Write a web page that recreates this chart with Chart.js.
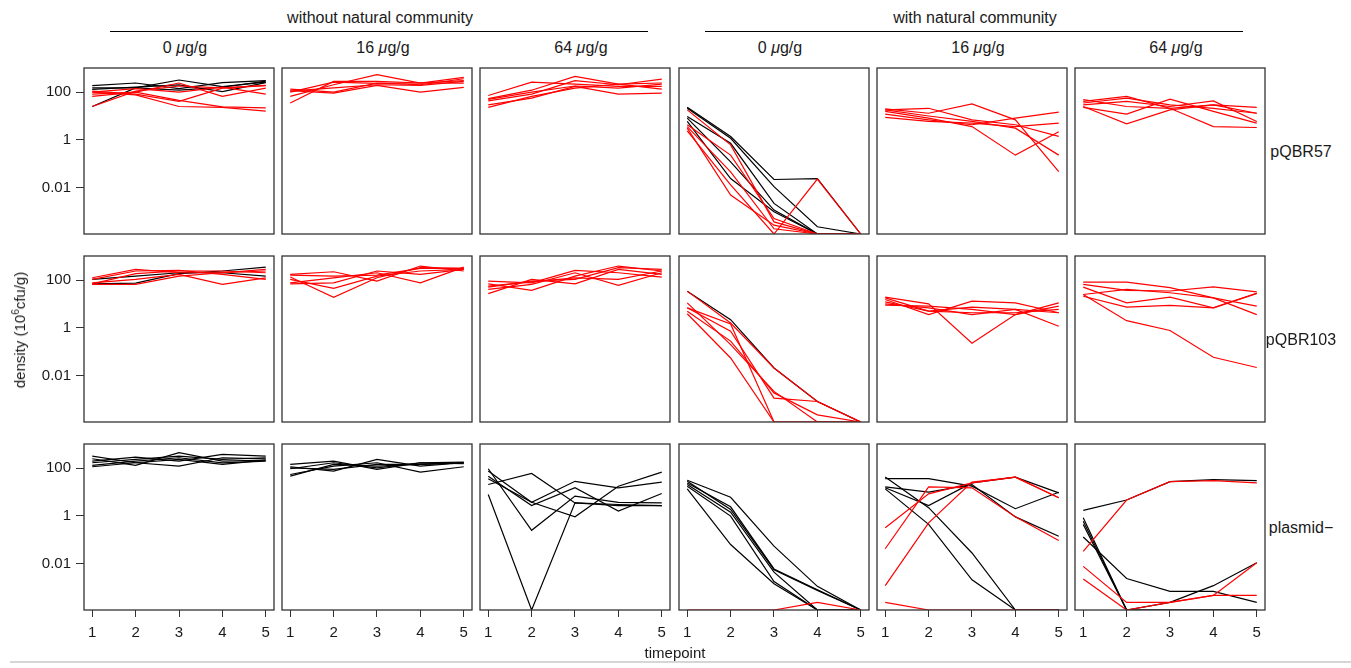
<!DOCTYPE html>
<html>
<head>
<meta charset="utf-8">
<script src="https://cdn.jsdelivr.net/npm/chart.js@4.4.1/dist/chart.umd.min.js"></script>
<style>
  body { margin: 0; background: #fff; font-family: "Liberation Sans", Arial, sans-serif; color: #1a1a1a; }
  #fig { position: relative; width: 1351px; height: 668px; overflow: hidden; }
  #fig canvas { position: absolute; }
  .lbl { position: absolute; font-size: 16px; white-space: nowrap; transform: translate(-50%, -50%); }
  .small { font-size: 15px; }
  .rule { position: absolute; height: 0; border-top: 1.5px solid #000; }
  .ytitle { font-size: 15px; transform: translate(-50%, -50%) rotate(-90deg); }
  .ytitle sup { font-size: 10px; }
</style>
</head>
<body>
<div id="fig"></div>
<script>
const timepoints = [1, 2, 3, 4, 5];
const yTicks = [0.01, 1, 100];
const yRange = [1.15e-4, 1.02e3];
const ND = 1.15e-4; // not detected, sits on the lower edge of the axis
const plasmids = ['pQBR57', 'pQBR103', 'plasmid\u2212'];
const communities = ['without natural community', 'with natural community'];
const doses = ['0', '16', '64'];

// pQBR57
const q57_wo_0_black = [
  [185, 240, 140, 250, 300],
  [150, 150, 320, 170, 260],
  [25, 150, 120, 160, 290],
  [130, 160, 200, 105, 250]
];
const q57_wo_0_red = [
  [100, 77, 25, 23, 16],
  [82, 100, 45, 24, 22],
  [110, 82, 41, 147, 185],
  [66, 100, 240, 66, 147],
  [100, 140, 100, 160, 82],
  [25, 110, 180, 150, 190]
];
const q57_wo_16_red = [
  [35, 280, 280, 240, 300],
  [66, 203, 535, 238, 413],
  [114, 91, 190, 100, 157],
  [134, 100, 238, 203, 362],
  [110, 150, 203, 190, 280],
  [100, 260, 230, 240, 238]
];
const q57_wo_64_red = [
  [72, 263, 216, 173, 173],
  [53, 120, 454, 216, 134],
  [43, 82, 300, 203, 351],
  [29, 56, 173, 82, 91],
  [23, 66, 147, 216, 240],
  [50, 100, 180, 147, 216]
];
const q57_w_0_black = [
  [23.4, 1.38, 0.022, 0.024, ND],
  [21, 1.17, 0.011, 0.00023, ND],
  [9.5, 0.72, 0.0022, ND, ND],
  [8.1, 0.12, 0.00115, ND, ND],
  [5.9, 0.024, 0.00098, ND, ND]
];
const q57_w_0_red = [
  [18, 0.62, 0.00037, ND, ND],
  [4.3, 0.23, 0.00051, ND, ND],
  [3.1, 0.0049, 0.00027, ND, ND],
  [2.4, 0.013, ND, 0.023, ND],
  [3.6, 0.046, 0.00019, ND, ND]
];
const q57_w_16_red = [
  [18, 21, 6.9, 4.3, 1.4],
  [20, 13, 32, 6.9, 0.047],
  [15.5, 8.1, 3.6, 0.23, 2.2],
  [12, 6.9, 4.3, 8.1, 14.5],
  [8.7, 5.9, 5.0, 3.6, 5.0],
  [18, 10, 5.9, 3.1, 0.23]
];
const q57_w_64_red = [
  [41, 66, 21, 29, 13],
  [29, 41, 25, 43, 5.9],
  [25, 4.7, 18, 29, 23],
  [23, 12, 51, 15.5, 5.0],
  [48, 25, 21, 3.6, 3.3],
  [35, 56, 29, 21, 13]
];

// pQBR103
const q103_wo_0_black = [
  [70, 75, 185, 240, 350],
  [107, 147, 203, 203, 147]
];
const q103_wo_0_red = [
  [125, 280, 203, 203, 280],
  [107, 240, 255, 173, 107],
  [77, 107, 173, 66, 125],
  [66, 66, 147, 203, 240],
  [70, 185, 240, 240, 203]
];
const q103_wo_16_red = [
  [134, 19, 125, 330, 309],
  [107, 45, 147, 240, 280],
  [173, 224, 91, 388, 240],
  [77, 125, 203, 77, 350],
  [70, 77, 240, 173, 280],
  [162, 147, 162, 309, 309]
];
const q103_wo_64_red = [
  [91, 77, 255, 203, 134],
  [70, 37, 147, 388, 240],
  [51, 91, 107, 330, 280],
  [41, 66, 203, 60, 203],
  [27, 107, 70, 280, 173],
  [56, 85, 125, 107, 240]
];
const q103_w_0_black = [
  [34.5, 2.2, 0.021, 0.00083, ND]
];
const q103_w_0_red = [
  [6.9, 1.47, ND, ND, ND],
  [3.9, 0.055, ND, ND, ND],
  [11.2, 0.20, 0.0022, ND, ND],
  [5.0, 0.28, 0.0019, 0.00023, ND],
  [34.5, 1.6, 0.021, 0.00083, ND],
  [6.9, 0.72, 0.00115, 0.00083, ND]
];
const q103_w_16_red = [
  [19.3, 10.2, 0.23, 3.6, 8.1],
  [15.5, 3.6, 13.1, 11.2, 4.3],
  [12.3, 5.0, 7.4, 5.9, 1.17],
  [8.9, 8.1, 5.9, 3.6, 11.2],
  [18, 5.0, 4.3, 4.3, 5.9],
  [10.2, 6.9, 3.6, 5.9, 4.3]
];
const q103_w_64_red = [
  [82, 82, 48, 18, 3.6],
  [66, 37, 35, 52, 32],
  [51, 11.2, 19.3, 6.9, 28],
  [21, 7.4, 8.7, 6.9, 28],
  [25, 2.0, 0.78, 0.059, 0.022],
  [25, 41, 29.5, 18, 8.1]
];

// plasmid-free
const free_wo_0_black = [
  [318, 167, 121, 271, 246],
  [246, 130, 440, 197, 216],
  [197, 290, 197, 374, 318],
  [130, 197, 271, 167, 197],
  [114, 167, 231, 142, 216],
  [167, 231, 318, 231, 271]
];
const free_wo_16_black = [
  [142, 197, 88, 167, 179],
  [114, 75, 231, 121, 167],
  [94, 167, 103, 167, 152],
  [54, 121, 167, 68, 114],
  [46, 142, 121, 142, 167],
  [103, 88, 142, 142, 167]
];
const free_wo_64_black = [
  [20.5, 60, 3.5, 3.0, 2.7],
  [94, 0.25, 6.7, 3.7, 3.5],
  [7.9, ND, 3.5, 2.7, 2.7],
  [75, 3.7, 28, 15, 26],
  [46, 2.7, 15, 1.6, 8.6],
  [36, 3.7, 0.91, 17.5, 68]
];
const free_w_0_black = [
  [31, 6.0, 0.054, 0.00112, ND],
  [24, 2.4, 0.006, 0.00081, ND],
  [20.5, 1.42, 0.0044, ND, ND],
  [17.5, 0.98, 0.0018, ND, ND],
  [13.5, 0.063, 0.00145, ND, ND],
  [28, 1.85, 0.0056, 0.00076, ND]
];
const free_w_0_red = [
  [ND, ND, ND, 0.00024, ND]
];
const free_w_16_black = [
  [36, 36, 17.5, 2.0, 9.8],
  [16.5, 9.8, 20.5, 0.91, 0.14],
  [15, 2.7, 24, 42, 9.2],
  [42, 2.2, 0.028, ND, ND],
  [13.5, 0.44, 0.0021, ND, ND]
];
const free_w_16_red = [
  [0.32, 8.4, 24, 42, 5.7],
  [0.042, 16.5, 15, 0.91, 0.093],
  [0.0012, 0.51, 26, 42, 5.7],
  [0.00024, ND, ND, ND, ND]
];
const free_w_64_black = [
  [1.7, 4.6, 27, 33, 30],
  [0.13, 0.0024, 0.00069, 0.00069, 0.00024],
  [0.83, ND, 0.00024, 0.0012, 0.011],
  [0.60, ND, ND, ND, ND],
  [0.44, ND, ND, ND, ND]
];
const free_w_64_red = [
  [0.033, 4.6, 27, 30, 24],
  [0.0077, 0.00024, 0.00024, 0.00047, 0.00047],
  [0.0023, ND, 0.00024, 0.00047, 0.011]
];

// rows: plasmid, columns: community x dose
const panels = [
  [[q57_wo_0_black, q57_wo_0_red], [[], q57_wo_16_red], [[], q57_wo_64_red],
   [q57_w_0_black, q57_w_0_red], [[], q57_w_16_red], [[], q57_w_64_red]],
  [[q103_wo_0_black, q103_wo_0_red], [[], q103_wo_16_red], [[], q103_wo_64_red],
   [q103_w_0_black, q103_w_0_red], [[], q103_w_16_red], [[], q103_w_64_red]],
  [[free_wo_0_black, []], [free_wo_16_black, []], [free_wo_64_black, []],
   [free_w_0_black, free_w_0_red], [free_w_16_black, free_w_16_red], [free_w_64_black, free_w_64_red]]
];

const FONT = '"Liberation Sans", Arial, sans-serif';
const PANEL_W = 190, PANEL_H = 166, AXIS_W = 82, AXIS_H = 48, PAD = 2;
const colLeft = c => Math.round(84 + c * 198.2);
const rowTop = r => 68 + r * 188;
const fig = document.getElementById('fig');

// frame round each panel
const panelBox = {
  id: 'panelBox',
  afterDraw(chart) {
    const a = chart.chartArea, ctx = chart.ctx;
    ctx.save();
    ctx.strokeStyle = '#333';
    ctx.lineWidth = 1.3;
    ctx.strokeRect(a.left, a.top, a.right - a.left, a.bottom - a.top);
    ctx.restore();
  }
};

function lines(rows, color, order) {
  return rows.map(vals => ({
    data: vals.map((v, i) => ({ x: timepoints[i], y: v })),
    borderColor: color,
    borderWidth: 1.2,
    pointRadius: 0,
    tension: 0,
    order: order
  }));
}

// fixed axis sizes so every plot area lines up
function fixX(s) {
  s.height = AXIS_H;
  s.paddingLeft = s.paddingRight = 0;
}
function fixY(s) {
  s.width = AXIS_W;
  s.paddingTop = s.paddingBottom = 0;
}

function addPanel(r, c) {
  const showY = c === 0, showX = r === 2;
  const left = showY ? 0 : colLeft(c) - PAD;
  const width = showY ? colLeft(0) + PANEL_W + PAD : PANEL_W + 2 * PAD;
  const height = PANEL_H + 2 * PAD + (showX ? AXIS_H : 0);
  const cv = document.createElement('canvas');
  cv.width = width;
  cv.height = height;
  cv.style.left = left + 'px';
  cv.style.top = (rowTop(r) - PAD) + 'px';
  fig.appendChild(cv);

  const [black, red] = panels[r][c];
  new Chart(cv, {
    type: 'line',
    data: { datasets: [...lines(red, '#f00', 0), ...lines(black, '#000', 1)] },
    options: {
      responsive: false,
      animation: false,
      events: [],
      layout: { padding: PAD },
      plugins: { legend: { display: false }, tooltip: { enabled: false } },
      scales: {
        x: {
          type: 'linear', min: 0.81, max: 5.19, display: showX,
          afterBuildTicks: s => { s.ticks = timepoints.map(v => ({ value: v })); },
          afterFit: showX ? fixX : undefined,
          grid: { drawOnChartArea: false, tickLength: 7, color: '#333' },
          border: { display: false },
          ticks: { font: { family: FONT, size: 15 }, color: '#1a1a1a', padding: 7, maxRotation: 0, autoSkip: false }
        },
        y: {
          type: 'logarithmic', min: yRange[0], max: yRange[1], display: showY,
          afterBuildTicks: s => { s.ticks = yTicks.map(v => ({ value: v })); },
          afterFit: showY ? fixY : undefined,
          grid: { drawOnChartArea: false, tickLength: 8, color: '#333' },
          border: { display: false },
          ticks: { font: { family: FONT, size: 15 }, color: '#1a1a1a', padding: 5, callback: v => String(v) }
        }
      }
    },
    plugins: [panelBox]
  });
}

for (let r = 0; r < 3; r++) {
  for (let c = 0; c < 6; c++) addPanel(r, c);
}

function label(html, x, y, cls) {
  const d = document.createElement('div');
  d.className = 'lbl' + (cls ? ' ' + cls : '');
  d.innerHTML = html;
  d.style.left = x + 'px';
  d.style.top = y + 'px';
  fig.appendChild(d);
}

function rule(x0, x1, y) {
  const d = document.createElement('div');
  d.className = 'rule';
  d.style.left = x0 + 'px';
  d.style.width = (x1 - x0) + 'px';
  d.style.top = y + 'px';
  fig.appendChild(d);
}

// community headers with their rules
communities.forEach((name, g) => {
  const x0 = colLeft(g * 3), x1 = colLeft(g * 3 + 2) + PANEL_W;
  label(name, (x0 + x1) / 2 + 3, 18);
  rule(x0 + 26, x1 - 22, 31);
});

// dose headers
for (let c = 0; c < 6; c++) {
  label(doses[c % 3] + ' <i>\u03bc</i>g/g', colLeft(c) + PANEL_W / 2 + 6, 48);
}

// plasmid strips on the right
plasmids.forEach((name, r) => label(name, 1301, rowTop(r) + PANEL_H / 2 + 1));

label('density (10<sup>6</sup>cfu/g)', 19, 330, 'ytitle');
label('timepoint', 675, 652, 'small');

// thin grey rule along the bottom edge
const base = document.createElement('div');
base.style.cssText = 'position:absolute;left:10px;right:0;top:661px;height:0;border-top:2px solid #d6d6d6;';
fig.appendChild(base);
</script>
</body>
</html>
